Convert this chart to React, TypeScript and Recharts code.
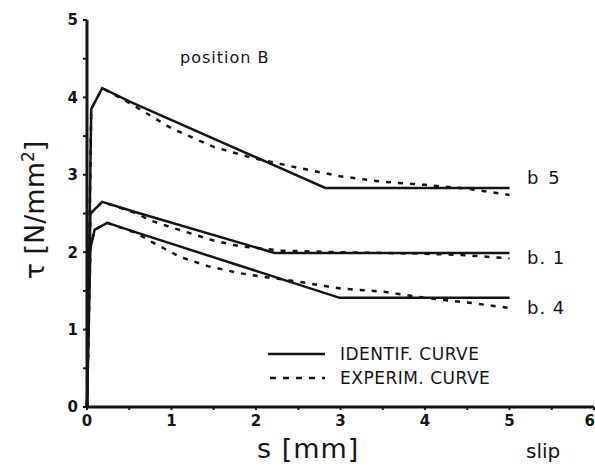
import { LineChart, Line, XAxis, YAxis } from "recharts";

// slip s [mm] and bond stress tau [N/mm2]
const b5IdS = [0, 0.05, 0.18, 0.5, 2.82, 5];
const b5IdT = [0, 3.85, 4.12, 3.95, 2.83, 2.83];
const b5ExS = [0, 0.05, 0.18, 0.5, 1.0, 1.5, 1.95, 2.5, 3.0, 3.5, 4.0, 4.5, 5.0];
const b5ExT = [0, 3.85, 4.12, 3.93, 3.6, 3.36, 3.22, 3.09, 2.98, 2.91, 2.87, 2.82, 2.74];

const b1IdS = [0, 0.04, 0.18, 0.57, 2.22, 5];
const b1IdT = [0, 2.5, 2.65, 2.52, 1.99, 1.99];
const b1ExS = [0, 0.04, 0.18, 0.57, 0.75, 1.0, 1.5, 1.8, 2.3, 3.0, 4.0, 4.5, 5.0];
const b1ExT = [0, 2.5, 2.65, 2.51, 2.41, 2.32, 2.15, 2.08, 2.02, 2.0, 1.98, 1.96, 1.92];

const b4IdS = [0, 0.04, 0.09, 0.24, 0.6, 2.99, 5];
const b4IdT = [0, 2.05, 2.29, 2.38, 2.25, 1.41, 1.41];
const b4ExS = [0, 0.04, 0.09, 0.24, 0.6, 0.77, 1.1, 1.43, 1.8, 2.1, 2.5, 3.0, 3.5, 4.0, 4.5, 5.0];
const b4ExT = [0, 2.05, 2.29, 2.38, 2.24, 2.13, 1.94, 1.82, 1.73, 1.68, 1.62, 1.53, 1.49, 1.41, 1.35, 1.28];

const xTicks = [0, 0.5, 1, 1.5, 2, 2.5, 3, 3.5, 4, 4.5, 5, 5.5, 6];
const yTicks = [0, 0.5, 1, 1.5, 2, 2.5, 3, 3.5, 4, 4.5, 5];

const toPts = (s: number[], t: number[]) => s.map((v, i) => ({ s: v, t: t[i] }));

const FONT = "'DejaVu Sans', sans-serif";
const INK = "#151515";

const intOnly = (v: number) => (Number.isInteger(v) ? String(v) : "");

const XTick = (props: any) => {
  const { x, y, payload } = props;
  const v = payload.value;
  if (!Number.isInteger(v)) return null;
  const last = v === 6;
  return (
    <text
      x={last ? x + 1 : x}
      y={y + 14}
      textAnchor={last ? "end" : "middle"}
      fontSize={15}
      fontWeight={600}
      fontFamily={FONT}
      fill={INK}
    >
      {v}
    </text>
  );
};

export default function App() {
  return (
    <div style={{ position: "absolute", left: 0, top: 0, width: 595, height: 470, background: "#fff" }}>
      <LineChart width={595} height={470} margin={{ top: 20, right: 1, left: 0, bottom: 0 }}>
        <XAxis
          type="number"
          dataKey="s"
          domain={[0, 6]}
          ticks={xTicks}
          interval={0}
          height={63}
          axisLine={{ stroke: INK, strokeWidth: 3 }}
          tickLine={{ stroke: INK, strokeWidth: 2 }}
          tickSize={3}
          tick={<XTick />}
        />
        <YAxis
          type="number"
          dataKey="t"
          domain={[0, 5]}
          ticks={yTicks}
          tickFormatter={intOnly}
          interval={0}
          width={87}
          axisLine={{ stroke: INK, strokeWidth: 3 }}
          tickLine={{ stroke: INK, strokeWidth: 2 }}
          tickSize={4}
          tickMargin={5}
          tick={{ fill: INK, fontSize: 15, fontFamily: FONT, fontWeight: 600 }}
        />
        <Line data={toPts(b5IdS, b5IdT)} dataKey="t" type="linear" dot={false} stroke={INK} strokeWidth={2.5} isAnimationActive={false} />
        <Line data={toPts(b5ExS, b5ExT)} dataKey="t" type="linear" dot={false} stroke={INK} strokeWidth={2.5} strokeDasharray="5 7" isAnimationActive={false} />
        <Line data={toPts(b1IdS, b1IdT)} dataKey="t" type="linear" dot={false} stroke={INK} strokeWidth={2.5} isAnimationActive={false} />
        <Line data={toPts(b1ExS, b1ExT)} dataKey="t" type="linear" dot={false} stroke={INK} strokeWidth={2.5} strokeDasharray="5 7" isAnimationActive={false} />
        <Line data={toPts(b4IdS, b4IdT)} dataKey="t" type="linear" dot={false} stroke={INK} strokeWidth={2.5} isAnimationActive={false} />
        <Line data={toPts(b4ExS, b4ExT)} dataKey="t" type="linear" dot={false} stroke={INK} strokeWidth={2.5} strokeDasharray="5 7" isAnimationActive={false} />
      </LineChart>
      <svg
        width={595}
        height={470}
        style={{ position: "absolute", left: 0, top: 0, pointerEvents: "none", fontFamily: FONT }}
      >
        <text x={180} y={63} fontSize={16} fill={INK} letterSpacing={1}>position B</text>
        <text x={527} y={184} fontSize={18} fill={INK} letterSpacing={2}>b 5</text>
        <text x={527} y={264} fontSize={18} fill={INK} letterSpacing={1}>b. 1</text>
        <text x={527} y={314} fontSize={18} fill={INK} letterSpacing={1}>b. 4</text>

        <line x1={268} y1={354} x2={325} y2={354} stroke={INK} strokeWidth={2.5} />
        <line x1={270} y1={378} x2={325} y2={378} stroke={INK} strokeWidth={2.5} strokeDasharray="6 7" />
        <text x={340} y={360} fontSize={17} fill={INK} letterSpacing={0.5}>IDENTIF. CURVE</text>
        <text x={340} y={384} fontSize={17} fill={INK} letterSpacing={0.5}>EXPERIM. CURVE</text>

        <text x={257} y={458} fontSize={27} fill={INK} letterSpacing={1}>s  [mm]</text>
        <text x={526} y={458} fontSize={20} fill={INK}>slip</text>
        <text
          transform="translate(44 210) rotate(-90)"
          textAnchor="middle"
          fontSize={27}
          fill={INK}
        >
          τ  [N/mm<tspan dy={-10} fontSize={17}>2</tspan><tspan dy={10}>]</tspan>
        </text>
      </svg>
    </div>
  );
}
